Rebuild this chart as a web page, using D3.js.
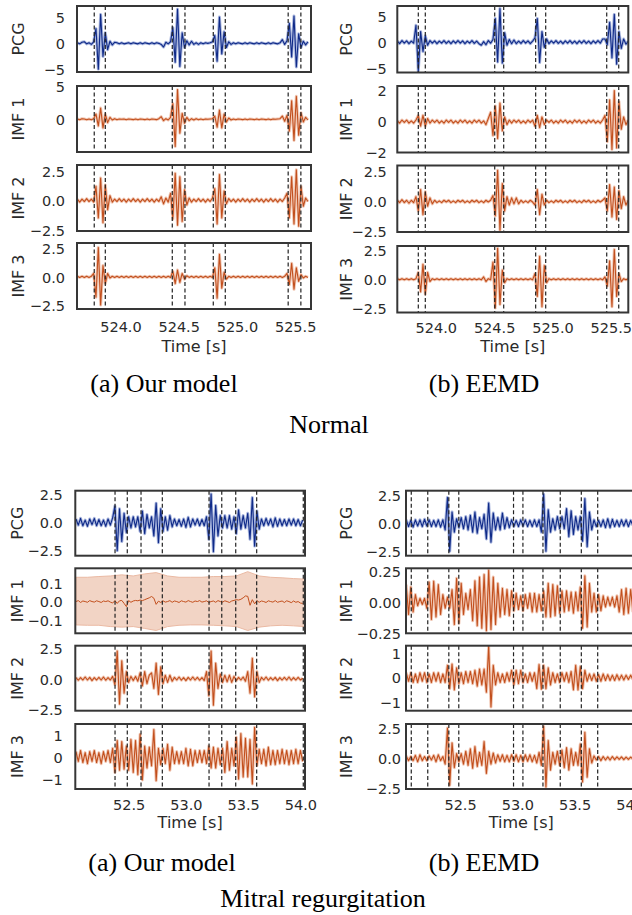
<!DOCTYPE html>
<html>
<head>
<meta charset="utf-8">
<script src="https://cdn.jsdelivr.net/npm/d3@7"></script>
<style>
body { margin: 0; background: #fff; }
svg { display: block; }
</style>
</head>
<body>
<svg width="632" height="915"></svg>
<script>
// samples are every 0.02 s
var sampleStep = 0.02;

var normalOursStart = 523.63;
var normalEemdStart = 523.67;
var mitralOursStart = 52.04;
var mitralEemdStart = 52.03;

var normalTicks = [524.0, 524.5, 525.0, 525.5];
var mitralTicks = [52.5, 53.0, 53.5, 54.0];

var panelNames = ["PCG", "IMF 1", "IMF 2", "IMF 3"];

// heart sound boundaries (dashed)
var normalOursDashes = [523.775, 523.87, 524.445, 524.554, 524.797, 524.9, 525.44, 525.549];
var normalEemdDashes = [523.85, 523.91, 524.505, 524.582, 524.856, 524.942, 525.465, 525.568];
var mitralOursDashes = [52.381, 52.488, 52.608, 52.794, 53.202, 53.313, 53.435, 53.618, 54.025];
var mitralEemdDashes = [52.074, 52.218, 52.402, 52.489, 52.967, 53.049, 53.224, 53.375, 53.559, 53.702];

// Normal, our model
var nOursPCG = [0.1,-0.1,0.2,0.3,-0.1,0.1,-0.2,
  0.3,2.8,-4.9,5.5,-2.5,2.0,-1.2,0.4,-0.3,0.2,
  0.1,-0.1,0.1,-0.1,0,0.1,-0.1,0.1,0,-0.1,0.1,-0.1,0.1,0,-0.1,0.1,-0.1,0.1,0,
  -0.2,-0.7,0.2,-0.1,0.3,3.0,-3.6,6.5,-4.4,2.0,-0.8,0.5,
  -0.3,0.4,-0.2,0.1,-0.2,0.1,-0.1,0.1,0,
  0.1,0.3,1.5,-3.4,5.0,-2.0,2.2,-0.8,0.3,-0.2,
  0.1,-0.1,0.1,0,-0.1,0.1,-0.1,0.1,0,-0.1,0.1,-0.1,0.1,0,-0.1,0.1,-0.1,0.1,0,-0.1,0.1,
  0.7,-0.2,0.5,3.8,-2.6,5.2,-4.5,1.8,-0.8,0.4,-0.3,0.3];
var nOursIMF1 = [0.05,-0.05,0.1,0.05,-0.05,0.05,-0.05,0.1,
  0.8,-1.0,1.7,-1.3,0.8,-0.5,0.3,
  -0.1,0.1,-0.05,0.05,0,0.05,-0.05,0.05,0,-0.05,0.05,-0.05,0.05,0,-0.05,0.05,-0.05,0.05,0,-0.05,0.1,
  0.4,-0.2,0.1,-0.1,0.3,
  2.4,-4.1,4.5,-2.1,0.9,-0.6,0.3,
  -0.2,0.1,-0.1,0.1,-0.05,0.05,-0.05,0.05,0,0.05,
  0.1,0.5,-1.2,1.4,-1.3,0.8,-0.4,0.2,
  -0.1,0.05,-0.05,0.05,0,-0.05,0.05,-0.05,0.05,0,-0.05,0.05,-0.05,0.05,0,-0.05,0.05,-0.05,0.05,0,0.05,
  0.1,0.5,-0.3,0.6,-1.8,2.8,-3.2,3.5,-2.4,1.0,-0.4,0.3,-0.1];
var nOursIMF2 = [0.1,-0.15,0.1,-0.1,0.15,-0.1,0.1,-0.15,
  1.2,-1.5,1.9,-1.9,1.3,-0.8,0.4,
  -0.15,0.1,-0.1,0.15,-0.1,0.1,-0.15,0.1,-0.1,0.15,-0.1,0.1,-0.15,0.1,-0.1,0.15,-0.1,0.1,-0.15,0.1,-0.1,
  0.3,-0.3,0.2,-0.15,
  0.6,-1.6,2.3,-2.1,2.0,-1.8,0.9,-0.4,
  0.2,-0.15,0.1,-0.1,0.15,-0.1,0.1,-0.15,0.1,-0.1,
  0.2,1.0,-2.0,2.2,-1.5,0.8,-0.3,
  0.15,-0.1,0.1,-0.15,0.1,-0.1,0.15,-0.1,0.1,-0.15,0.1,-0.1,0.15,-0.1,0.1,-0.15,0.1,-0.1,0.15,-0.1,0.1,-0.15,0.1,-0.1,
  0.2,0.6,-1.5,2.0,-2.0,2.6,-2.2,1.2,-0.5,0.2,-0.1];
var nOursIMF3 = [0.05,-0.05,0.05,-0.05,0.05,-0.05,0.05,
  0.3,-1.8,2.6,-2.5,1.0,-0.6,0.3,
  -0.1,0.05,-0.05,0.05,-0.05,0.05,-0.05,0.05,-0.05,0.05,-0.05,0.05,-0.05,0.05,-0.05,0.05,-0.05,0.05,-0.05,0.05,-0.05,0.05,-0.05,0.05,-0.05,0.05,-0.05,
  0.5,-0.6,0.6,-0.5,0.3,-0.2,
  0.1,-0.05,0.05,-0.05,0.05,-0.05,0.05,-0.05,0.05,-0.05,0.05,-0.05,
  0.8,-1.9,2.0,-1.0,0.4,-0.2,
  0.05,-0.05,0.05,-0.05,0.05,-0.05,0.05,-0.05,0.05,-0.05,0.05,-0.05,0.05,-0.05,0.05,-0.05,0.05,-0.05,0.05,-0.05,0.05,-0.05,0.05,-0.05,0.05,
  0.3,-0.7,1.2,-1.1,0.8,-0.4,0.2,
  -0.1,0.05,-0.05];

// Normal, EEMD
var nEemdPCG = [0.2,-0.3,0.3,-0.2,0.25,-0.3,0.2,-0.2,
  3.2,-5.6,2.0,-1.8,1.2,-0.6,0.3,
  -0.2,0.25,-0.3,0.2,-0.2,0.3,-0.25,0.2,-0.3,0.25,-0.2,0.3,-0.2,0.25,-0.3,0.2,-0.2,0.3,-0.25,0.2,-0.3,
  -0.6,0.1,-0.5,0.3,-0.2,
  0.5,4.5,-3.8,6.4,-4.0,1.8,-0.6,0.5,-0.3,0.4,
  -0.3,0.2,-0.25,0.3,-0.2,0.25,-0.3,0.2,
  0.8,4.5,-3.9,2.0,-1.0,0.6,-0.3,
  0.25,-0.2,0.3,-0.25,0.2,-0.3,0.25,-0.2,0.3,-0.25,0.2,-0.3,0.25,-0.2,0.3,-0.25,0.2,-0.3,0.25,-0.2,0.3,-0.2,
  0.6,
  0.6,-0.5,3.8,-3.0,5.3,-4.2,2.0,-1.2,0.6,-0.4,0.2];
var nEemdIMF1 = [0.05,-0.1,0.1,-0.05,0.1,-0.1,0.05,-0.1,0.1,
  0.4,-0.3,0.4,-0.3,0.2,
  -0.1,0.1,-0.05,0.1,-0.1,0.05,-0.1,0.1,-0.05,0.1,-0.1,0.05,-0.1,0.1,-0.05,0.1,-0.1,0.05,-0.1,0.1,-0.05,0.1,-0.1,0.05,-0.2,0.2,
  0.6,-0.9,1.0,-1.1,1.2,-0.6,0.3,-0.2,0.1,
  -0.1,0.1,-0.05,0.1,-0.1,0.05,-0.1,0.1,-0.05,0.1,
  -0.3,0.4,-0.4,0.3,-0.2,
  0.1,-0.05,0.1,-0.1,0.05,-0.1,0.1,-0.05,0.1,-0.1,0.05,-0.1,0.1,-0.05,0.1,-0.1,0.05,-0.1,0.1,-0.05,0.1,-0.1,0.05,-0.1,0.1,
  0.4,-1.3,1.4,-1.8,2.0,-1.7,1.3,-0.5,0.3,-0.2,
  0.1];
var nEemdIMF2 = [0.1,-0.1,0.15,-0.1,0.1,-0.15,0.1,-0.1,
  0.4,-0.8,1.0,-1.1,0.8,-0.4,0.3,-0.2,
  0.1,-0.1,0.05,-0.1,0.1,-0.05,0.1,-0.1,0.05,-0.1,0.1,-0.05,0.1,-0.1,0.05,-0.1,0.1,-0.05,0.1,-0.1,0.05,-0.1,0.1,-0.05,0.1,
  0.5,-1.2,2.6,-2.4,1.5,-0.8,0.4,-0.3,
  0.3,-0.2,0.3,-0.2,
  0.1,-0.1,0.05,-0.1,0.1,-0.05,
  -0.3,1.0,-1.1,0.6,-0.3,
  0.1,-0.1,0.05,-0.1,0.1,-0.05,0.1,-0.1,0.05,-0.1,0.1,-0.05,0.1,-0.1,0.05,-0.1,0.1,-0.05,0.1,-0.1,0.05,-0.1,0.1,-0.05,0.1,
  0.3,-0.8,1.4,-1.3,1.2,-1.5,0.9,-0.6,0.4,-0.3,0.1];
var nEemdIMF3 = [0.05,-0.05,0.05,-0.05,0.05,-0.05,0.05,-0.05,0.05,
  0.6,-1.1,1.3,-1.3,0.6,-0.2,
  0.05,-0.05,0.05,-0.05,0.05,-0.05,0.05,-0.05,0.05,-0.05,0.05,-0.05,0.05,-0.05,0.05,-0.05,0.05,-0.05,0.05,-0.05,0.05,-0.05,
  0.2,-0.2,
  0.05,-0.05,
  1.5,-2.5,2.7,-2.2,0.8,-0.3,
  0.05,-0.05,0.05,-0.05,0.05,-0.05,0.05,-0.05,0.05,-0.05,0.05,-0.05,
  0.5,-1.5,2.0,-2.4,1.2,-0.3,
  0.05,-0.05,0.05,-0.05,0.05,-0.05,0.05,-0.05,0.05,-0.05,0.05,-0.05,0.05,-0.05,0.05,-0.05,0.05,-0.05,0.05,-0.05,0.05,-0.05,0.05,-0.05,
  0.2,-0.6,1.6,-2.4,2.6,-1.5,0.5,-0.2,
  0.05,-0.05,0.05];

// Mitral regurgitation, our model
var mOursPCG = [0.3,-0.25,0.35,-0.3,0.2,-0.35,0.3,-0.2,0.35,-0.3,0.25,-0.3,0.2,-0.35,0.3,-0.25,0.4,
  1.45,-2.5,1.2,-1.7,0.8,-0.9,0.5,-0.5,
  0.5,-0.4,0.5,
  -0.8,1.0,-1.0,0.7,
  -0.5,0.5,
  -1.2,1.7,-1.8,1.2,-0.8,0.5,
  -0.7,0.6,-0.4,
  0.3,-0.3,0.25,-0.35,0.3,-0.45,0.45,-0.4,0.3,-0.25,0.3,-0.3,0.25,-0.3,0.5,
  -1.5,2.5,-2.6,1.5,-1.2,0.6,-0.5,
  0.6,-0.5,0.6,-0.6,0.5,
  -1.0,1.1,
  -0.6,0.6,-0.5,
  0.8,-1.5,2.2,-2.1,1.0,-0.6,
  0.3,-0.3,0.35,-0.25,0.3,-0.4,0.4,-0.35,0.3,-0.3,0.25,-0.3,0.3,-0.25,0.3,-0.3,0.25,-0.3,0.2];
var mOursIMF1 = [0,0.005,-0.005,0.003,0,-0.004,0.005,0,-0.003,0.004,0,-0.005,0.003,0,0.004,-0.003,
  -0.008,0.005,-0.01,0.004,0.006,-0.01,-0.027,0.005,-0.004,
  0.003,0.006,0.004,0.008,0.005,0.01,0.015,
  0.02,0.027,0.018,-0.015,0.002,-0.005,
  0.004,-0.003,0,0.005,-0.004,0.003,0,-0.005,0.004,0,-0.003,0.005,0,-0.004,0.003,0,0.005,-0.003,0,0.004,-0.005,0,0.003,-0.004,0.005,0,-0.003,0.004,0,-0.005,0.003,0.006,0.01,0.008,0.012,
  0.02,0.03,0.028,-0.02,0.01,-0.012,
  0.005,-0.004,0.003,0,-0.005,0.004,0,-0.003,0.005,-0.004,0,0.003,-0.005,0.004,0,-0.006,0.003,-0.004,0,-0.008,-0.01];
var mOursIMF2 = [0.1,-0.12,0.1,-0.1,0.15,-0.1,0.12,-0.15,0.1,-0.1,0.12,-0.1,0.15,-0.12,0.1,-0.1,0.2,
  -0.5,2.3,-2.1,1.5,-1.2,0.6,-0.3,
  0.2,-0.15,0.2,-0.2,
  0.5,-0.6,0.6,-0.4,
  0.3,
  0.5,-0.8,1.3,-1.3,1.0,-0.4,
  0.3,-0.3,0.3,-0.2,
  0.12,-0.1,0.15,-0.12,0.1,-0.15,0.12,-0.1,0.15,-0.1,0.12,-0.12,0.1,-0.15,
  0.6,-1.4,2.3,-2.2,1.3,-0.8,0.4,
  -0.3,0.3,-0.25,0.3,-0.3,0.2,
  -0.15,0.12,-0.1,0.15,-0.2,
  0.6,-1.2,1.7,-1.5,0.6,-0.3,
  0.12,-0.1,0.15,-0.12,0.1,-0.1,0.12,-0.15,0.1,-0.1,0.12,-0.1,0.15,-0.12,0.1,-0.1,0.12,-0.1,0.05];
var mOursIMF3 = [0.25,-0.2,0.3,-0.25,0.2,-0.3,0.25,-0.2,0.3,-0.25,0.2,-0.3,0.25,-0.2,0.3,-0.25,0.4,
  -0.7,0.75,-0.6,0.7,-0.55,0.5,
  -0.6,0.8,-0.7,0.75,-0.8,1.04,-1.04,
  0.5,-0.5,0.45,-0.4,
  1.25,-1.07,
  0.4,-0.35,0.4,-0.3,
  0.58,-0.6,0.45,
  -0.3,0.25,-0.3,0.25,-0.3,
  0.4,-0.4,0.35,-0.4,0.3,
  -0.25,0.3,-0.25,0.3,-0.3,
  0.5,-0.5,0.45,-0.5,
  0.4,-0.35,0.4,
  -0.7,0.7,-0.6,
  0.4,-0.4,
  0.9,-1.0,1.07,-0.9,0.85,-0.9,0.8,
  -1.22,1.35,
  -0.4,0.35,-0.3,0.35,-0.4,0.45,-0.35,0.3,-0.35,0.3,-0.3,0.35,-0.3,0.3,-0.35,0.3,-0.3,0.35,-0.3,0.3,-0.2];

// spread of IMF 1 (our model, mitral), every 0.1 s
var mOursBandTime = [52.04,52.14,52.24,52.34,52.44,52.54,52.64,52.74,52.84,52.94,53.04,53.14,53.24,53.34,53.44,53.54,53.64,53.74,53.84,53.94,54.04];
var mOursBandUpper = [0.13,0.13,0.134,0.137,0.143,0.137,0.148,0.155,0.137,0.13,0.13,0.13,0.134,0.134,0.137,0.16,0.137,0.13,0.127,0.123,0.12];
var mOursBandLower = [-0.125,-0.127,-0.127,-0.134,-0.137,-0.134,-0.144,-0.155,-0.134,-0.127,-0.125,-0.125,-0.127,-0.13,-0.134,-0.155,-0.137,-0.13,-0.127,-0.13,-0.134];

// Mitral regurgitation, EEMD
var mEemdPCG = [0.3,-0.3,0.25,-0.35,0.3,-0.25,0.3,-0.3,0.35,-0.25,0.3,-0.3,0.25,-0.3,0.3,-0.35,0.3,-0.6,
  2.3,-2.5,1.0,-0.8,0.4,-0.4,
  0.5,-0.5,0.6,-0.6,0.7,-0.8,1.0,-0.9,
  0.5,-0.5,
  0.8,-1.4,1.8,-1.7,0.9,-0.6,0.5,
  -0.6,0.9,-0.5,0.5,-0.4,
  0.3,-0.3,0.25,-0.3,0.3,-0.25,0.3,-0.3,0.25,-0.3,0.3,-0.3,
  0.3,
  -0.8,2.6,-2.5,1.2,-0.8,0.4,
  -0.6,0.6,-0.5,0.6,-0.5,
  1.3,-1.2,1.1,-1.0,
  0.6,-0.6,
  0.6,-1.6,2.2,-2.1,1.0,-0.6,
  0.3,-0.3,0.25,-0.3,0.3,-0.4,0.4,-0.4,0.35,-0.3,0.25,-0.3,0.3,-0.25,0.3,-0.3,0.25,-0.2];
var mEemdIMF1 = [0.14,-0.1,0.12,-0.08,0.06,
  -0.03,0.03,-0.02,0.03,-0.05,
  0.16,-0.14,0.167,-0.12,0.14,-0.1,0.06,
  -0.05,0.04,-0.05,0.1,
  -0.18,0.19,-0.17,0.15,-0.1,
  0.07,-0.06,0.1,
  -0.15,0.17,-0.19,0.2,-0.21,0.22,-0.23,0.255,-0.22,0.2,-0.18,0.15,-0.12,
  0.11,-0.1,0.1,-0.11,0.09,-0.07,
  0.07,-0.06,0.05,-0.07,0.06,-0.05,0.07,
  -0.08,0.07,-0.08,0.06,-0.07,0.09,
  -0.12,0.15,-0.12,0.14,-0.11,0.13,-0.09,
  0.09,-0.08,0.09,-0.07,0.08,-0.09,0.08,-0.07,0.12,
  -0.21,0.21,-0.2,0.15,
  -0.08,0.07,-0.08,0.06,-0.07,0.05,
  -0.04,0.04,-0.03,0.04,-0.04,0.05,
  -0.08,0.1,-0.1,0.11,-0.09,0.1,-0.08];
var mEemdIMF2 = [0.2,-0.15,0.2,-0.2,0.15,-0.2,0.2,-0.15,0.2,-0.2,0.15,-0.2,0.2,-0.15,0.2,-0.2,0.15,-0.2,
  0.5,-0.45,0.55,-0.5,0.4,
  -0.25,0.2,-0.25,0.25,-0.2,0.25,-0.25,0.3,
  -0.35,0.35,-0.3,0.35,-0.6,
  1.3,-1.2,0.5,-0.3,
  0.2,-0.2,0.15,-0.2,0.2,-0.15,
  0.3,-0.3,0.3,-0.25,0.3,
  -0.2,0.15,-0.2,0.2,-0.15,0.2,
  -0.45,0.53,-0.47,0.5,-0.45,0.4,-0.3,
  0.2,-0.2,0.15,-0.2,0.2,-0.15,0.2,-0.2,0.25,
  -0.5,0.5,-0.5,0.45,-0.45,0.3,
  -0.15,0.15,-0.12,0.15,-0.15,0.12,-0.15,0.15,-0.12,0.12,-0.12,0.1,-0.12,0.12,-0.1,0.1,-0.1,0.1,-0.08,0.1,-0.08];
var mEemdIMF3 = [0.2,-0.2,0.15,-0.2,0.25,-0.3,0.3,-0.2,0.15,-0.2,0.2,-0.15,0.25,-0.3,0.3,-0.2,0.15,-0.5,
  2.56,-2.28,1.3,-0.8,0.4,-0.3,
  0.4,-0.5,0.6,-0.6,0.8,-0.85,1.0,-0.7,
  0.5,-0.6,
  1.42,-1.28,0.6,-0.5,0.45,-0.4,
  0.3,-0.25,0.3,-0.3,0.25,-0.3,0.3,-0.25,0.3,-0.3,0.25,-0.3,0.3,-0.25,0.3,-0.3,0.25,-0.4,
  0.5,-0.6,2.7,-2.42,1.5,-1.0,0.5,
  -0.5,0.6,-0.6,0.7,-0.8,0.9,-1.0,0.8,-0.6,
  0.5,-0.6,
  1.2,-2.0,2.2,-1.6,0.8,-0.4,
  0.2,-0.15,0.15,-0.2,0.15,-0.15,0.12,-0.15,0.15,-0.12,0.12,-0.1,0.12,-0.12,0.1,-0.1,0.1,-0.08];

// y ranges and ticks per panel
var nOursYRange = [[-5.45, 7.1], [-4.95, 5.05], [-2.6, 3.0], [-2.85, 3.0]];
var nOursYTicks = [[-5, 0, 5], [0, 5], [-2.5, 0, 2.5], [-2.5, 0, 2.5]];
var nEemdYRange = [[-5.8, 6.9], [-2.0, 2.3], [-2.55, 3.0], [-2.9, 2.9]];
var nEemdYTicks = [[-5, 0, 5], [-2, 0, 2], [-2.5, 0, 2.5], [-2.5, 0, 2.5]];
var mOursYRange = [[-2.95, 2.8], [-0.17, 0.178], [-2.65, 2.75], [-1.45, 1.5]];
var mOursYTicks = [[-2.5, 0, 2.5], [-0.1, 0, 0.1], [-2.5, 0, 2.5], [-1, 0, 1]];
var mEemdYRange = [[-2.9, 2.9], [-0.25, 0.27], [-1.35, 1.3], [-2.6, 2.9]];
var mEemdYTicks = [[-2.5, 0, 2.5], [-0.25, 0, 0.25], [-1, 0, 1], [-2.5, 0, 2.5]];

var pcgColor = "#0f2a88", pcgHalo = "#a9b6de";
var imfColor = "#c24f1d", imfHalo = "#f1c8b5";
var sansFont = "DejaVu Sans, sans-serif";
var serifFont = "Liberation Serif, Times New Roman, serif";

var svg = d3.select("svg");

var figures = [
  { start: normalOursStart, xRange: [523.627, 525.636], xTicks: normalTicks, dashes: normalOursDashes,
    signals: [nOursPCG, nOursIMF1, nOursIMF2, nOursIMF3], yRange: nOursYRange, yTicks: nOursYTicks,
    formats: ["d", "d", ".1f", ".1f"],
    left: 77, right: 311, tops: [6, 86, 165, 243], h: 66, yPad: 12, labelX: 18, tickBase: 332.5, timeBase: 351.7 },
  { start: normalEemdStart, xRange: [523.67, 525.65], xTicks: normalTicks, dashes: normalEemdDashes,
    signals: [nEemdPCG, nEemdIMF1, nEemdIMF2, nEemdIMF3], yRange: nEemdYRange, yTicks: nEemdYTicks,
    formats: ["d", "d", ".1f", ".1f"],
    left: 397.3, right: 628.3, tops: [6, 86, 165.5, 246], h: 66.5, yPad: 10.5, labelX: 346.7, tickBase: 333.3, timeBase: 351.7 },
  { start: mitralOursStart, xRange: [52.034, 54.04], xTicks: mitralTicks, dashes: mitralOursDashes,
    signals: [mOursPCG, mOursIMF1, mOursIMF2, mOursIMF3], yRange: mOursYRange, yTicks: mOursYTicks,
    formats: [".1f", ".1f", ".1f", "d"], band: 1,
    left: 75.3, right: 305, tops: [490.7, 568.3, 645.7, 724], h: 65, yPad: 12.5, labelX: 17.5, tickBase: 810, timeBase: 828.3 },
  { start: mitralEemdStart, xRange: [52.028, 54.04], xTicks: mitralTicks, dashes: mitralEemdDashes,
    signals: [mEemdPCG, mEemdIMF1, mEemdIMF2, mEemdIMF3], yRange: mEemdYRange, yTicks: mEemdYTicks,
    formats: [".1f", ".2f", "d", ".1f"],
    left: 406, right: 636.4, tops: [490.7, 568.3, 645.7, 724], h: 65, yPad: 5, labelX: 346.7, tickBase: 810, timeBase: 828.3 }
];

var defs = svg.append("defs");

figures.forEach(function(f, fi) {
  var x = d3.scaleLinear().domain(f.xRange).range([f.left, f.right]);

  f.signals.forEach(function(sig, k) {
    var top = f.tops[k];
    var y = d3.scaleLinear().domain(f.yRange[k]).range([top + f.h, top]);
    var g = svg.append("g");

    var clipId = "clip" + fi + "_" + k;
    defs.append("clipPath").attr("id", clipId)
      .append("rect")
      .attr("x", f.left).attr("y", top)
      .attr("width", f.right - f.left).attr("height", f.h);

    var plot = g.append("g").attr("clip-path", "url(#" + clipId + ")");
    var color = k === 0 ? pcgColor : imfColor;
    var halo = k === 0 ? pcgHalo : imfHalo;

    var line = d3.line()
      .x(function(d, i) { return x(f.start + i * sampleStep); })
      .y(function(d) { return y(d); });

    if (f.band === k) {
      var bandData = mOursBandTime.map(function(t, i) {
        return { t: t, lo: mOursBandLower[i], hi: mOursBandUpper[i] };
      });
      var area = d3.area()
        .x(function(d) { return x(d.t); })
        .y0(function(d) { return y(d.lo); })
        .y1(function(d) { return y(d.hi); });
      plot.append("path").datum(bandData).attr("d", area)
        .attr("fill", "#f2d4c5").attr("stroke", "#eab9a3").attr("stroke-width", 1);
      plot.append("path").datum(sig).attr("d", line)
        .attr("fill", "none").attr("stroke", imfColor).attr("stroke-width", 1);
    } else {
      plot.append("path").datum(sig).attr("d", line)
        .attr("fill", "none").attr("stroke", halo).attr("stroke-width", 3)
        .attr("stroke-linejoin", "round");
      plot.append("path").datum(sig).attr("d", line)
        .attr("fill", "none").attr("stroke", color).attr("stroke-width", 1.1)
        .attr("stroke-linejoin", "round");
    }

    // boundaries
    plot.selectAll("line.dash")
      .data(f.dashes)
      .enter()
      .append("line")
      .attr("class", "dash")
      .attr("x1", function(d) { return x(d); })
      .attr("x2", function(d) { return x(d); })
      .attr("y1", top).attr("y2", top + f.h)
      .attr("stroke", "#222").attr("stroke-width", 1.2)
      .attr("stroke-dasharray", "4,2.5");

    g.append("rect")
      .attr("x", f.left).attr("y", top)
      .attr("width", f.right - f.left).attr("height", f.h)
      .attr("fill", "none").attr("stroke", "#363636").attr("stroke-width", 2);

    var yAxis = g.append("g")
      .attr("transform", "translate(" + f.left + ",0)")
      .call(d3.axisLeft(y).tickValues(f.yTicks[k]).tickSize(0).tickPadding(f.yPad)
        .tickFormat(d3.format(f.formats[k])));
    yAxis.select(".domain").remove();
    yAxis.selectAll("text")
      .attr("font-family", sansFont).attr("font-size", 14.5).attr("fill", "#2a2a2a")
      .attr("dy", "0.36em");

    g.append("text")
      .attr("transform", "translate(" + f.labelX + "," + (top + f.h / 2) + ") rotate(-90)")
      .attr("text-anchor", "middle")
      .attr("dy", "0.36em")
      .attr("font-family", sansFont).attr("font-size", 16).attr("fill", "#2a2a2a")
      .text(panelNames[k]);

    if (k === 3) {
      var bottom = top + f.h;
      var xAxis = g.append("g")
        .attr("transform", "translate(0," + bottom + ")")
        .call(d3.axisBottom(x).tickValues(f.xTicks).tickSize(0)
          .tickPadding(f.tickBase - bottom - 10.3).tickFormat(d3.format(".1f")));
      xAxis.select(".domain").remove();
      xAxis.selectAll("text")
        .attr("font-family", sansFont).attr("font-size", 14.5).attr("fill", "#2a2a2a");

      g.append("text")
        .attr("x", (f.left + f.right) / 2).attr("y", f.timeBase)
        .attr("text-anchor", "middle")
        .attr("font-family", sansFont).attr("font-size", 16).attr("fill", "#2a2a2a")
        .text("Time [s]");
    }
  });
});

// captions
var captions = [
  { text: "(a) Our model", x: 164, y: 391.5 },
  { text: "(b) EEMD", x: 484, y: 391.5 },
  { text: "Normal", x: 329, y: 433 },
  { text: "(a) Our model", x: 162, y: 871 },
  { text: "(b) EEMD", x: 484, y: 871 },
  { text: "Mitral regurgitation", x: 323, y: 907 }
];
svg.selectAll("text.caption")
  .data(captions)
  .enter()
  .append("text")
  .attr("class", "caption")
  .attr("x", function(d) { return d.x; })
  .attr("y", function(d) { return d.y; })
  .attr("text-anchor", "middle")
  .attr("font-family", serifFont).attr("font-size", 26).attr("fill", "#000")
  .text(function(d) { return d.text; });
</script>
</body>
</html>
